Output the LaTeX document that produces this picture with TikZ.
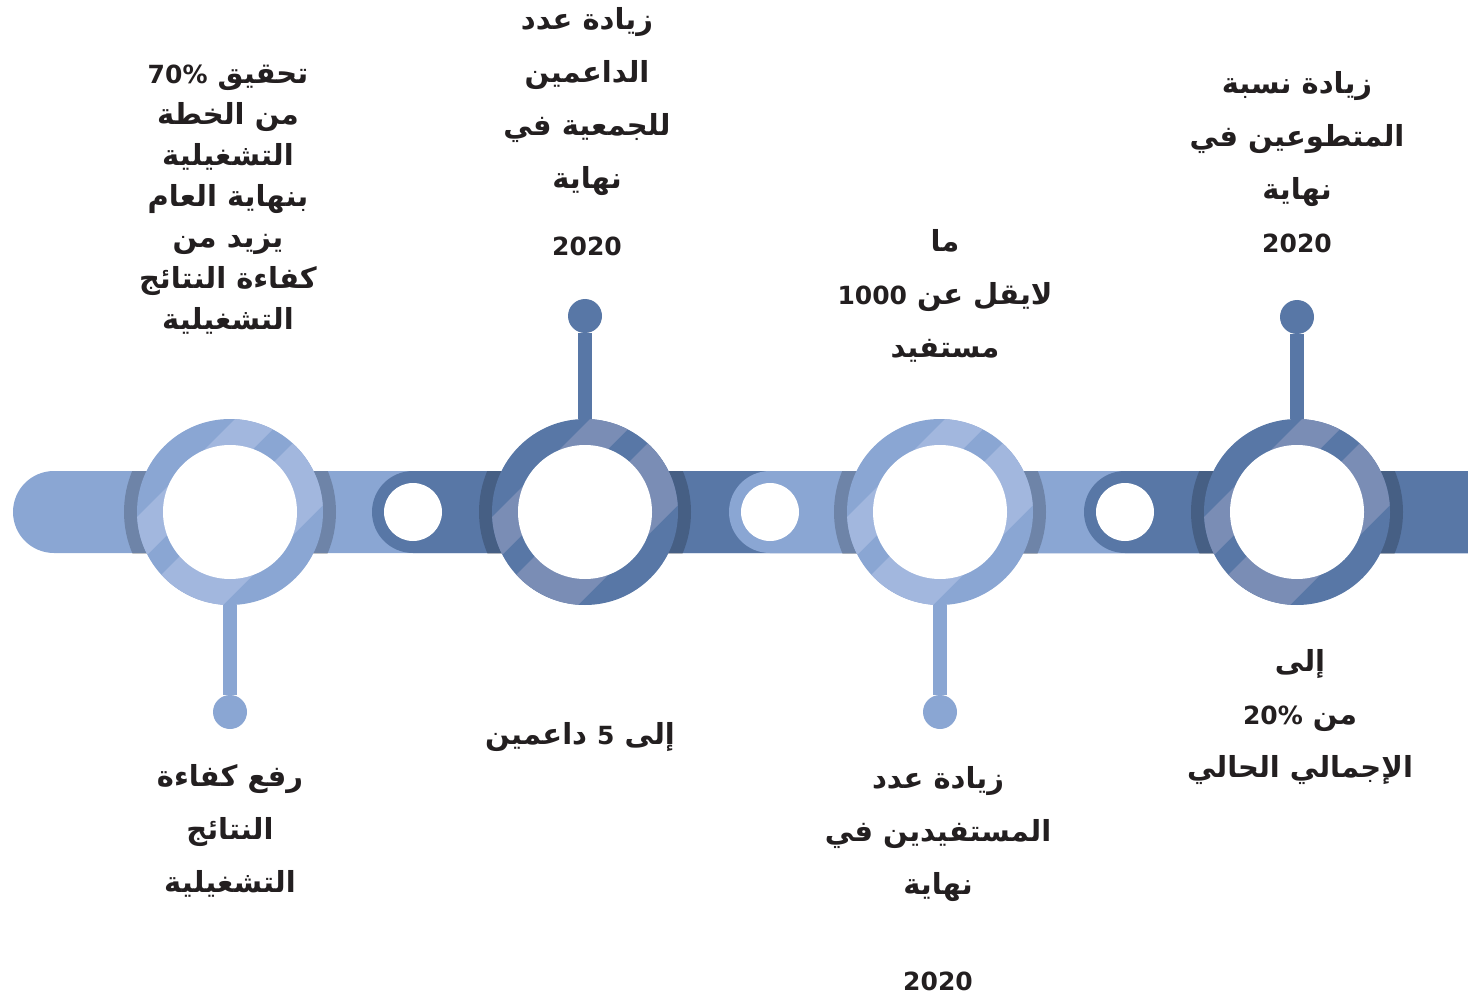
\documentclass[tikz,border=0pt]{standalone}
\usepackage{fontspec}
\newfontfamily\arabicfont[Script=Arabic]{DejaVu Sans}
\TeXXeTstate=1
\definecolor{barlight}{HTML}{8AA6D3}
\definecolor{bardark}{HTML}{5877A6}
\definecolor{bandlight}{HTML}{A2B7DE}
\definecolor{banddark}{HTML}{7A8DB5}
\definecolor{ink}{HTML}{231F20}
\newcommand\numtxt[1]{{\fontsize{25pt}{25pt}\selectfont#1}}
\tikzset{
  goal/.style={font=\arabicfont\bfseries\fontsize{29pt}{53pt}\selectfont, align=center, text=ink, inner sep=0pt},
  ring/.style={circle, minimum size=186pt, inner sep=0pt},
  knob/.style={circle, minimum size=34pt, inner sep=0pt, fill=#1},
  hole/.style={circle, minimum size=58pt, inner sep=0pt, fill=white},
  stem/.style={line width=14pt, draw=#1},
}

\begin{document}
\begin{tikzpicture}[x=1pt,y=-1pt]
        \useasboundingbox (0,0) rectangle (1468,995);

        \fill[barlight, rounded corners=41pt] (13,471) rectangle (1560,553);
        \fill[bardark, rounded corners=41pt] (372,471) rectangle (1560,553);
        \fill[barlight, rounded corners=41pt] (729,471) rectangle (1560,553);
        \fill[bardark, rounded corners=41pt] (1084,471) rectangle (1560,553);

        \node[hole] (hole1) at (413,512) {};
        \node[hole] (hole2) at (770,512) {};
        \node[hole] (hole3) at (1125,512) {};

        \node[ring] (ring1) at (230,512) {};
        \node[ring] (ring2) at (585,512) {};
        \node[ring] (ring3) at (940,512) {};
        \node[ring] (ring4) at (1297,512) {};

        \node[knob=barlight] (knob1) at (230,712) {};
        \node[knob=bardark] (knob2) at (585,316) {};
        \node[knob=barlight] (knob3) at (940,712) {};
        \node[knob=bardark] (knob4) at (1297,317) {};

        \draw[stem=barlight] (ring1) -- (knob1);
        \draw[stem=bardark] (ring2) -- (knob2);
        \draw[stem=barlight] (ring3) -- (knob3);
        \draw[stem=bardark] (ring4) -- (knob4);

        \foreach \cx/\base/\band in {230/barlight/bandlight, 585/bardark/banddark, 940/barlight/bandlight, 1297/bardark/banddark} {
            \begin{scope}
                \clip (0,471) rectangle (1468,553);
                \fill[black, opacity=.2] (\cx,512) circle (106);
            \end{scope}
            \fill[\base] (\cx,512) circle (93);
            \begin{scope}
                \clip (\cx,512) circle (93);
                \fill[\band] ({\cx-194},618) -- ({\cx-170},642) -- ({\cx+130},342) -- ({\cx+106},318) -- cycle;
                \fill[\band] ({\cx-153},659) -- ({\cx-107},705) -- ({\cx+193},405) -- ({\cx+147},359) -- cycle;
            \end{scope}
            \fill[white] (\cx,512) circle (67);
        }

        \node[goal, font=\arabicfont\bfseries\fontsize{29pt}{41pt}\selectfont] (t1) at (228,200) {\beginR تحقيق \beginL\numtxt{70\%}\endL\endR\\ \beginR من الخطة\endR\\ \beginR التشغيلية\endR\\ \beginR بنهاية العام\endR\\ \beginR يزيد من\endR\\ \beginR كفاءة النتائج\endR\\ \beginR التشغيلية\endR};
        \node[goal] (t2) at (587,132) {\beginR زيادة عدد\endR\\ \beginR الداعمين\endR\\ \beginR للجمعية في\endR\\ \beginR نهاية\endR\\[14pt] \numtxt{2020}};
        \node[goal] (t3) at (945,296) {\beginR ما\endR\\ \beginR لايقل عن \beginL\numtxt{1000}\endL\endR\\ \beginR مستفيد\endR};
        \node[goal] (t4) at (1297,162) {\beginR زيادة نسبة\endR\\ \beginR المتطوعين في\endR\\ \beginR نهاية\endR\\ \numtxt{2020}};

        \node[goal] (t5) at (230,831) {\beginR رفع كفاءة\endR\\ \beginR النتائج\endR\\ \beginR التشغيلية\endR};
        \node[goal] (t6) at (580,737) {\beginR إلى \beginL\numtxt{5}\endL{} داعمين\endR};
        \node[goal] (t7) at (938,879) {\beginR زيادة عدد\endR\\ \beginR المستفيدين في\endR\\ \beginR نهاية\endR\\[43pt] \numtxt{2020}};
        \node[goal] (t8) at (1300,717) {\beginR إلى\endR\\ \beginR من \beginL\numtxt{20\%}\endL\endR\\ \beginR الإجمالي الحالي\endR};
    \end{tikzpicture}
\end{document}
